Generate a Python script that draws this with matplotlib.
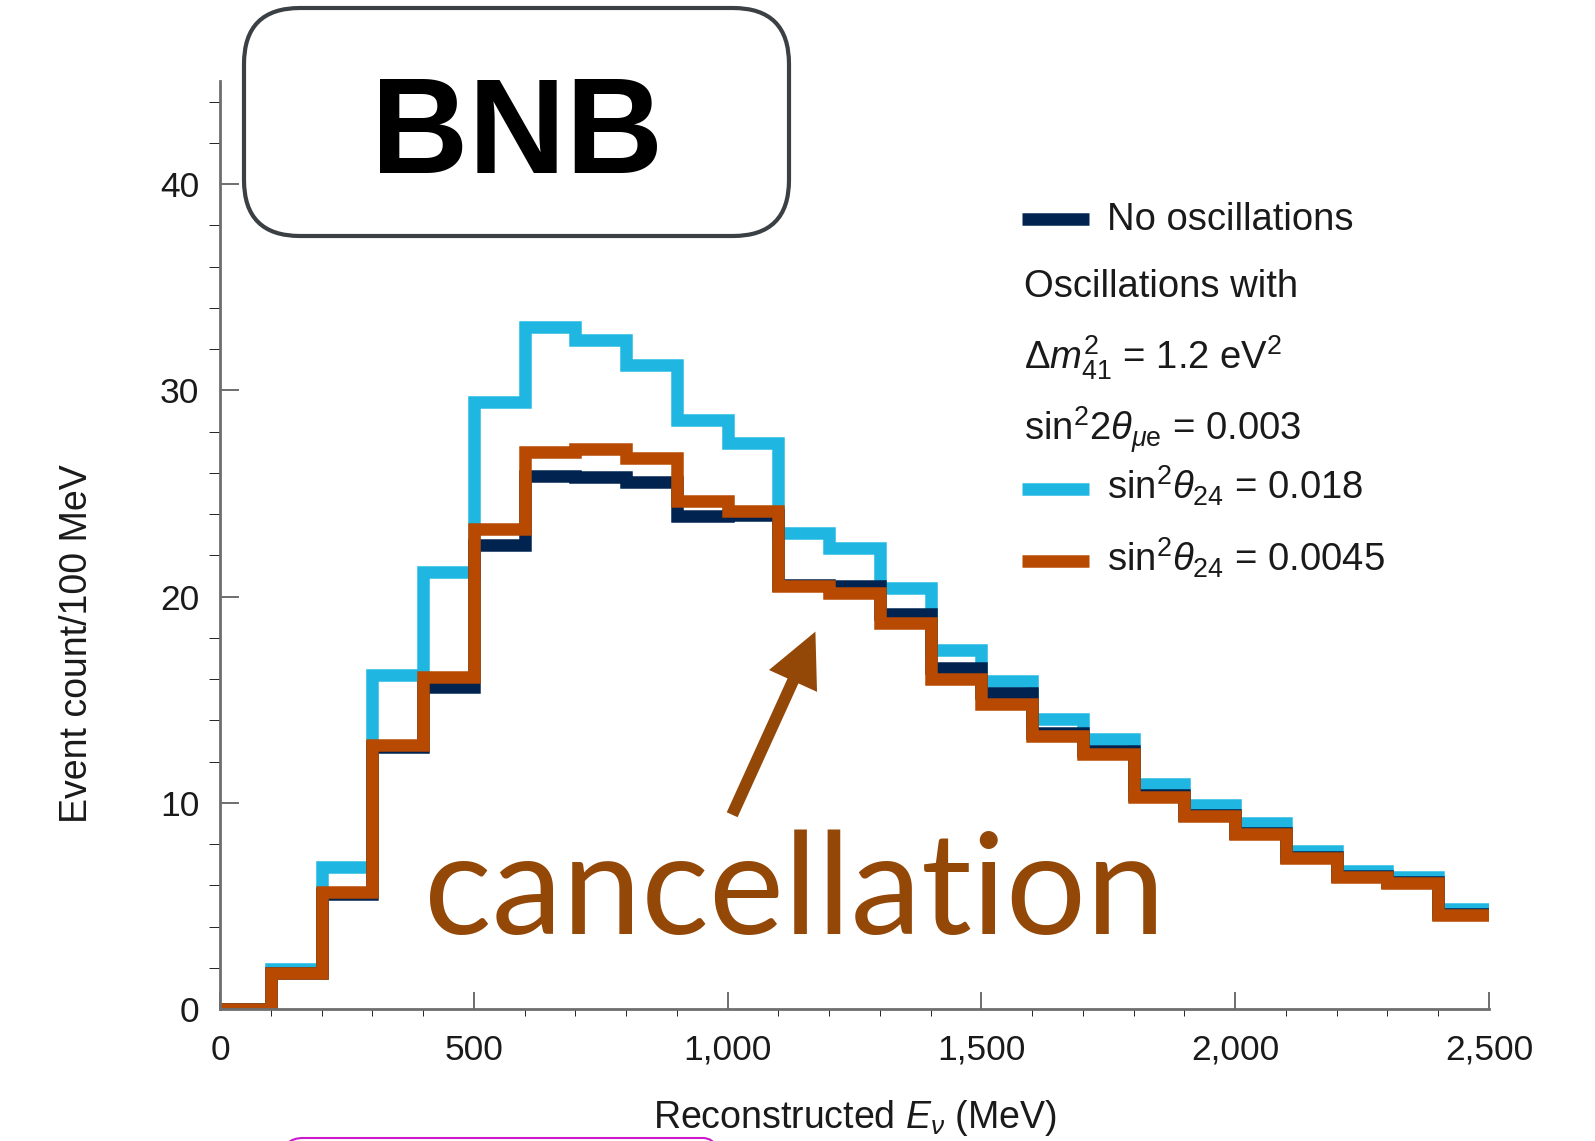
import matplotlib
matplotlib.use("Agg")
import matplotlib.pyplot as plt
from matplotlib.lines import Line2D
from matplotlib.patches import FancyBboxPatch
from matplotlib.transforms import IdentityTransform
from matplotlib.ticker import FuncFormatter, MultipleLocator

plt.rcParams["font.family"] = ["Liberation Sans", "DejaVu Sans"]
plt.rcParams["mathtext.fontset"] = "custom"
plt.rcParams["mathtext.rm"] = "Liberation Sans"
plt.rcParams["mathtext.it"] = "Liberation Sans:italic"
plt.rcParams["mathtext.bf"] = "Liberation Sans:bold"

# ── data: BNB reconstructed-energy spectra, 100 MeV bins ──────────────────────
bin_edges = [0, 100, 200, 300, 400, 500, 600, 700, 800, 900, 1000, 1100, 1200,
             1300, 1400, 1500, 1600, 1700, 1800, 1900, 2000, 2100, 2200, 2300,
             2400, 2500]
no_osc = [0, 1.75, 5.6, 12.7, 15.6, 22.5, 25.85, 25.8, 25.55, 23.9, 23.95,
          20.55, 20.5, 19.15, 16.55, 15.3, 13.4, 12.5, 10.4, 9.4, 8.55, 7.35,
          6.45, 6.15, 4.6]
osc_t24_018 = [0, 1.95, 6.9, 16.2, 21.2, 29.45, 33.05, 32.45, 31.25, 28.55,
               27.45, 23.1, 22.35, 20.4, 17.4, 15.9, 14.05, 13.1, 10.9, 9.9,
               9.0, 7.65, 6.7, 6.4, 4.85]
osc_t24_0045 = [0, 1.75, 5.65, 12.8, 16.1, 23.3, 27.0, 27.15, 26.7, 24.65,
                24.15, 20.5, 20.15, 18.7, 16.0, 14.8, 13.25, 12.35, 10.3, 9.35,
                8.5, 7.3, 6.4, 6.1, 4.55]

legend_labels = [
    "No oscillations",
    "Oscillations with",
    r"$\Delta m^2_{41}$ = 1.2 eV$^2$",
    r"sin$^2$2$\theta_{\mu\mathrm{e}}$ = 0.003",
    r"sin$^2\theta_{24}$ = 0.018",
    r"sin$^2\theta_{24}$ = 0.0045",
]

NAVY = "#00234f"
SKY = "#1fb6e1"
RUST = "#b74900"
BROWN = "#934808"

W, H = 1595, 1141


def fx(px):
    return px / W


def fy(py):
    return 1 - py / H


fig = plt.figure(figsize=(W / 100, H / 100), dpi=100)
ax = fig.add_axes([fx(220), fy(1009), (1489 - 220) / W, (1009 - 81) / H])

for vals, col in [(osc_t24_018, SKY), (no_osc, NAVY), (osc_t24_0045, RUST)]:
    st = ax.stairs(vals, bin_edges, baseline=None, color=col, lw=9)
    st.set_joinstyle("miter")
    st.set_capstyle("butt")

ax.set_xlim(0, 2500)
ax.set_ylim(0, 45)
ax.spines[["top", "right"]].set_visible(False)
for s in ("left", "bottom"):
    ax.spines[s].set_color("#6e6e6e")
    ax.spines[s].set_linewidth(2)

ax.xaxis.set_major_locator(MultipleLocator(500))
ax.xaxis.set_minor_locator(MultipleLocator(100))
ax.yaxis.set_major_locator(MultipleLocator(10))
ax.yaxis.set_minor_locator(MultipleLocator(2))
ax.xaxis.set_major_formatter(FuncFormatter(lambda v, p: f"{int(v):,}"))
ax.tick_params(direction="in", colors="#555555", labelcolor="#1a1a1a",
               labelsize=25.5, width=1.2)
ax.tick_params(axis="y", which="major", length=14, pad=15)
ax.tick_params(axis="y", which="minor", length=8)
ax.tick_params(axis="x", which="major", length=12, pad=18)
ax.tick_params(axis="x", which="minor", length=5)

ax.set_xlabel(r"Reconstructed $E_\nu$ (MeV)", fontsize=27, color="#1a1a1a")
ax.xaxis.label.set_va("center")
ax.xaxis.set_label_coords(0.5, -0.117)
ax.set_ylabel("Event count/100 MeV", fontsize=27, color="#1a1a1a")
ax.yaxis.label.set_va("center")
ax.yaxis.set_label_coords(-0.1127, 0.394)

# legend, drawn by hand so the text-only rows sit flush with the handles
handle_rows = {0: NAVY, 4: SKY, 5: RUST}
baselines = [230, 297, 369, 442, 500, 572]
for i, (lab, base) in enumerate(zip(legend_labels, baselines)):
    if i in handle_rows:
        fig.add_artist(Line2D([fx(1022), fx(1089)], [fy(base - 11)] * 2,
                              lw=9, color=handle_rows[i],
                              solid_capstyle="butt"))
        x0 = 1107
    else:
        x0 = 1024
    fig.text(fx(x0), fy(base), lab, fontsize=27.5, color="#1a1a1a",
             ha="left", va="baseline")

# "cancellation" callout
ax.annotate("", xy=(1173, 18.3), xytext=(1009, 9.42),
            arrowprops=dict(arrowstyle="simple,head_length=39,head_width=38,"
                                       "tail_width=8.6",
                            mutation_scale=1, color=BROWN, lw=0,
                            shrinkA=0, shrinkB=0))
fig.text(fx(424), fy(934), "cancellation", family=["Lato", "DejaVu Sans"],
         fontsize=102, color=BROWN, ha="left", va="baseline")

# beam label box
fig.add_artist(FancyBboxPatch((244, H - 236), 545, 228,
                              boxstyle="round,pad=0,rounding_size=56",
                              transform=IdentityTransform(),
                              facecolor="white", edgecolor="#3b4045", lw=3))
fig.text(fx(517), fy(173), "BNB", fontsize=97, fontweight="bold",
         color="black", ha="center", va="baseline")

# top edge of the next panel's label box, mostly below the frame
fig.add_artist(FancyBboxPatch((283, -60), 440, 63,
                              boxstyle="round,pad=0,rounding_size=20",
                              transform=IdentityTransform(),
                              facecolor="none", edgecolor="#cc19cc", lw=1.5))

fig.savefig("out.png", dpi=100)
